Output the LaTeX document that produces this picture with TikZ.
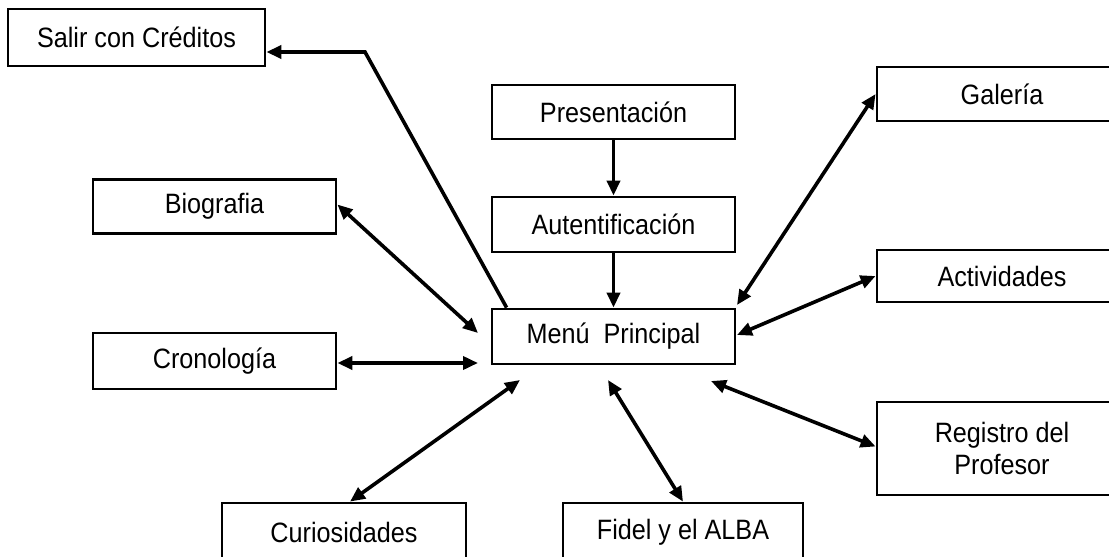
\documentclass[tikz,border=0pt]{standalone}
\usepackage{fontspec}
\setmainfont{Liberation Sans}[FakeStretch=0.9]
\usetikzlibrary{arrows.meta}
\begin{document}
\begin{tikzpicture}[x=1pt,y=-1pt,
  box/.style={draw=black,line width=2.8pt,rectangle,inner sep=0pt,
    font=\fontsize{28}{31}\selectfont,align=center,fill=white},
  conn/.style={line width=3.6pt,black,
    arrows={-Triangle[length=15pt,width=13pt]}},
  bidir/.style={line width=3.6pt,black,
    arrows={Triangle[length=15pt,width=13pt]-Triangle[length=15pt,width=13pt]}}]
\useasboundingbox (0,0) rectangle (1109,557);
\fill[white] (0,0) rectangle (1109,557);
\clip (0,0) rectangle (1109,557);
% nodes
\node[box,minimum width=257pt,minimum height=57pt] (salir) at (136.5,37.5) {Salir con Créditos};
\node[box,minimum width=243pt,minimum height=54pt] (pres) at (613.5,112) {Presentación};
\node[box,minimum width=243pt,minimum height=55pt] (aut) at (613.5,224.5) {Autentificación};
\node[box,minimum width=243pt,minimum height=55pt] (menu) at (613.5,336.5) {Menú\ \ Principal};
\node[box,minimum width=243pt,minimum height=54pt] (bio) at (214.5,206.5) {Biografia};
\node[box,minimum width=243pt,minimum height=56pt] (cro) at (214.5,361) {Cronología};
\node[box,minimum width=250pt,minimum height=54pt] (gal) at (1002,94) {Galería};
\node[box,minimum width=250pt,minimum height=52pt] (act) at (1002,276) {Actividades};
\node[box,minimum width=250pt,minimum height=93pt,font=\fontsize{28}{32}\selectfont] (reg) at (1002,448.5) {Registro del\\Profesor};
\node[box,minimum width=244pt,minimum height=58pt] (cur) at (344,532) {Curiosidades};
\node[box,minimum width=240pt,minimum height=58pt] (fid) at (683,532) {Fidel y el ALBA};
% free ends near the main menu
\coordinate (sc) at (365,52);
\coordinate (bioE) at (478,333);
\coordinate (croE) at (478,363);
\coordinate (galE) at (737,305);
\coordinate (actE) at (737,335);
\coordinate (regE) at (711,381);
\coordinate (curE) at (520,380);
\coordinate (fidE) at (608,380);
% connectors
\draw[conn] ([xshift=16pt]menu.north west) -- (sc) -- (salir.east |- sc);
\draw[conn] (pres.south) -- (aut.north);
\draw[conn] (aut.south) -- (menu.north);
\draw[bidir] ([yshift=2pt]bio.east) -- (bioE);
\draw[bidir] (cro.east |- croE) -- (croE);
\draw[bidir] (galE) -- (gal.west);
\draw[bidir] (actE) -- (act.west);
\draw[bidir] (regE) -- ([yshift=2pt]reg.west);
\draw[bidir] (curE) -- ([xshift=6pt]cur.north);
\draw[bidir] (fidE) -- (fid.north);
\end{tikzpicture}
\end{document}
